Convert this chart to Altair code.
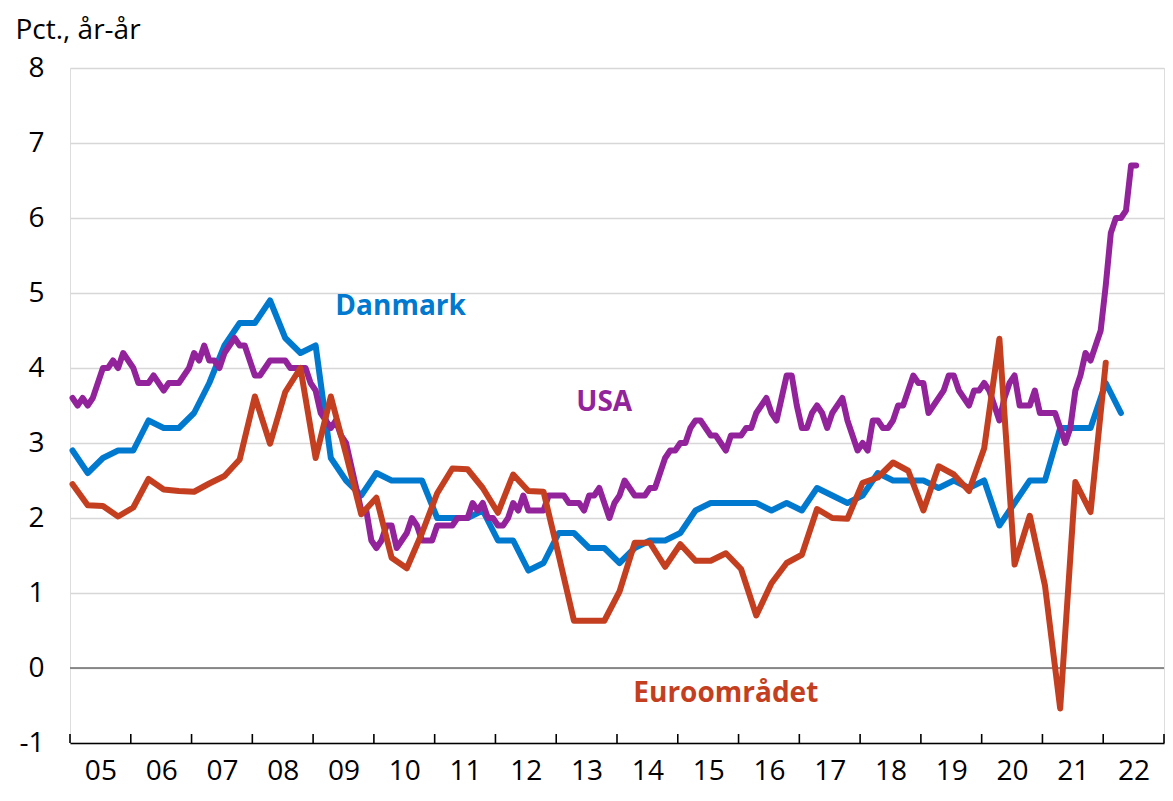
import altair as alt
import pandas as pd

# ---------------- data ----------------
x_labels = ["05", "06", "07", "08", "09", "10", "11", "12", "13",
            "14", "15", "16", "17", "18", "19", "20", "21", "22"]
y_ticks = [-1, 0, 1, 2, 3, 4, 5, 6, 7, 8]

# Danmark, quarterly 2005Q1 - 2022Q2
danmark = [2.9, 2.6, 2.8, 2.9,
           2.9, 3.3, 3.2, 3.2,
           3.4, 3.8, 4.3, 4.6,
           4.6, 4.9, 4.4, 4.2,
           4.3, 2.8, 2.5, 2.3,
           2.6, 2.5, 2.5, 2.5,
           2.0, 2.0, 2.0, 2.1,
           1.7, 1.7, 1.3, 1.4,
           1.8, 1.8, 1.6, 1.6,
           1.4, 1.6, 1.7, 1.7,
           1.8, 2.1, 2.2, 2.2,
           2.2, 2.2, 2.1, 2.2,
           2.1, 2.4, 2.3, 2.2,
           2.3, 2.6, 2.5, 2.5,
           2.5, 2.4, 2.5, 2.4,
           2.5, 1.9, 2.2, 2.5,
           2.5, 3.2, 3.2, 3.2,
           3.8, 3.4]

# Euroområdet, quarterly 2005Q1 - 2022Q1
euro = [2.45, 2.17, 2.16, 2.02,
        2.14, 2.52, 2.38, 2.36,
        2.35, 2.46, 2.56, 2.78,
        3.62, 2.99, 3.68, 4.00,
        2.80, 3.62, 2.85, 2.05,
        2.27, 1.47, 1.33, 1.80,
        2.33, 2.66, 2.65, 2.40,
        2.07, 2.58, 2.36, 2.35,
        1.50, 0.63, 0.63, 0.63,
        1.02, 1.67, 1.67, 1.35,
        1.65, 1.43, 1.43, 1.53,
        1.32, 0.70, 1.13, 1.40,
        1.51, 2.12, 2.00, 1.99,
        2.47, 2.54, 2.74, 2.63,
        2.10, 2.69, 2.58, 2.36,
        2.93, 4.39, 1.38, 2.03,
        1.10, -0.54, 2.48, 2.08,
        4.07]

# USA, monthly Jan 2005 - Jul 2022
usa = [3.6, 3.5, 3.6, 3.5, 3.6, 3.8, 4.0, 4.0, 4.1, 4.0, 4.2, 4.1,
       4.0, 3.8, 3.8, 3.8, 3.9, 3.8, 3.7, 3.8, 3.8, 3.8, 3.9, 4.0,
       4.2, 4.1, 4.3, 4.1, 4.1, 4.0, 4.2, 4.3, 4.4, 4.3, 4.3, 4.1,
       3.9, 3.9, 4.0, 4.1, 4.1, 4.1, 4.1, 4.0, 4.0, 4.0, 4.0, 3.8,
       3.7, 3.4, 3.3, 3.2, 3.3, 3.1, 3.0, 2.7, 2.4, 2.1, 2.1, 1.7,
       1.6, 1.7, 1.9, 1.9, 1.6, 1.7, 1.8, 2.0, 1.9, 1.7, 1.7, 1.7,
       1.9, 1.9, 1.9, 1.9, 2.0, 2.0, 2.0, 2.2, 2.1, 2.2, 2.0, 2.0,
       1.9, 1.9, 2.0, 2.2, 2.1, 2.3, 2.1, 2.1, 2.1, 2.1, 2.3, 2.3,
       2.3, 2.3, 2.2, 2.2, 2.2, 2.1, 2.3, 2.3, 2.4, 2.2, 2.0, 2.2,
       2.3, 2.5, 2.4, 2.3, 2.3, 2.3, 2.4, 2.4, 2.6, 2.8, 2.9, 2.9,
       3.0, 3.0, 3.2, 3.3, 3.3, 3.2, 3.1, 3.1, 3.0, 2.9, 3.1, 3.1,
       3.1, 3.2, 3.2, 3.4, 3.5, 3.6, 3.4, 3.3, 3.6, 3.9, 3.9, 3.5,
       3.2, 3.2, 3.4, 3.5, 3.4, 3.2, 3.4, 3.5, 3.6, 3.3, 3.1, 2.9,
       3.0, 2.9, 3.3, 3.3, 3.2, 3.2, 3.3, 3.5, 3.5, 3.7, 3.9, 3.8,
       3.8, 3.4, 3.5, 3.6, 3.7, 3.9, 3.9, 3.7, 3.6, 3.5, 3.7, 3.7,
       3.8, 3.7, 3.5, 3.3, 3.6, 3.8, 3.9, 3.5, 3.5, 3.5, 3.7, 3.4,
       3.4, 3.4, 3.4, 3.2, 3.0, 3.2, 3.7, 3.9, 4.2, 4.1, 4.3, 4.5,
       5.1, 5.8, 6.0, 6.0, 6.1, 6.7, 6.7]

series_names = ["Danmark", "USA", "Euroområdet"]
series_colors = ["#0079cf", "#93239b", "#c43f20"]

# series label positions (year, value)
label_text = ["Danmark", "USA", "Euroområdet"]
label_t = [2010.44, 2013.79, 2015.79]
label_v = [4.82, 3.54, -0.34]

START = 2005
END = 2023


def frame(name, vals, step):
    return pd.DataFrame({
        "serie": name,
        "t": [START + (i * step + 0.5) / 12 for i in range(len(vals))],
        "v": vals,
    })


df_dk = frame("Danmark", danmark, 3)
df_us = frame("USA", usa, 1)
df_eu = frame("Euroområdet", euro, 3)
df_lab = pd.DataFrame({"serie": label_text, "t": label_t, "v": label_v})
df_ticks = pd.DataFrame({"t": list(range(START, END + 1))})
df_zero = pd.DataFrame({"v": [0]})

W, H = 1094, 675
PAD_L, PAD_T, PAD_R, PAD_B = 62, 60, 1, 45
FONT = "Open Sans"

label_array = "[" + ",".join("'" + s + "'" for s in x_labels) + "]"

x_scale = alt.Scale(domain=[START, END], nice=False, zero=False)
y_scale = alt.Scale(domain=[-1, 8], nice=False, zero=False)
color_scale = alt.Scale(domain=series_names, range=series_colors)

x_axis = alt.Axis(
    values=[START + 0.5 + i for i in range(len(x_labels))],
    labelExpr=label_array + "[floor(datum.value) - " + str(START) + "]",
    ticks=False, tickSize=0, grid=False, domain=True,
    domainColor="#000000", domainWidth=1.6,
    labelFontSize=28, labelColor="#000000", labelPadding=14,
    labelFont=FONT, title=None,
)
y_axis = alt.Axis(
    values=y_ticks, labelExpr="'' + datum.value",
    ticks=False, tickSize=0, domain=False,
    grid=True, gridColor="#d7d7d7", gridWidth=1.6,
    labelFontSize=28, labelColor="#000000", labelPadding=26,
    labelFont=FONT,
    title="Pct., år-år", titleAngle=0, titleAlign="left",
    titleBaseline="alphabetic", titleX=-55, titleY=-30,
    titleFontSize=28, titleFontWeight="normal", titleColor="#000000",
    titleFont=FONT,
)

base_axes = alt.Chart(df_zero).mark_rule(opacity=0).encode(
    x=alt.X("v:Q", scale=x_scale, axis=x_axis),
    y=alt.Y("v:Q", scale=y_scale, axis=y_axis),
)

zero_line = alt.Chart(df_zero).mark_rule(color="#6b6b6b", strokeWidth=1.6).encode(
    y=alt.Y("v:Q", scale=y_scale)
)

ticks = alt.Chart(df_ticks).mark_rule(color="#000000", strokeWidth=1.6).encode(
    x=alt.X("t:Q", scale=x_scale),
    y=alt.value(H),
    y2=alt.value(H - 9),
)


def line(df):
    return alt.Chart(df).mark_line(
        strokeWidth=6, strokeCap="round", strokeJoin="round"
    ).encode(
        x=alt.X("t:Q", scale=x_scale),
        y=alt.Y("v:Q", scale=y_scale),
        color=alt.Color("serie:N", scale=color_scale, legend=None),
    )


labels = alt.Chart(df_lab).mark_text(
    font=FONT, fontSize=28, fontWeight="bold", align="center", baseline="middle"
).encode(
    x=alt.X("t:Q", scale=x_scale),
    y=alt.Y("v:Q", scale=y_scale),
    text="serie:N",
    color=alt.Color("serie:N", scale=color_scale, legend=None),
)

chart = alt.layer(
    base_axes, zero_line, ticks, line(df_dk), line(df_us), line(df_eu), labels
).properties(
    width=W, height=H,
    autosize=alt.AutoSizeParams(type="none"),
    padding={"left": PAD_L, "top": PAD_T, "right": PAD_R, "bottom": PAD_B},
).configure_view(stroke=None).configure(font=FONT)

chart.save("out.html", embed_options={"renderer": "svg", "actions": False})
